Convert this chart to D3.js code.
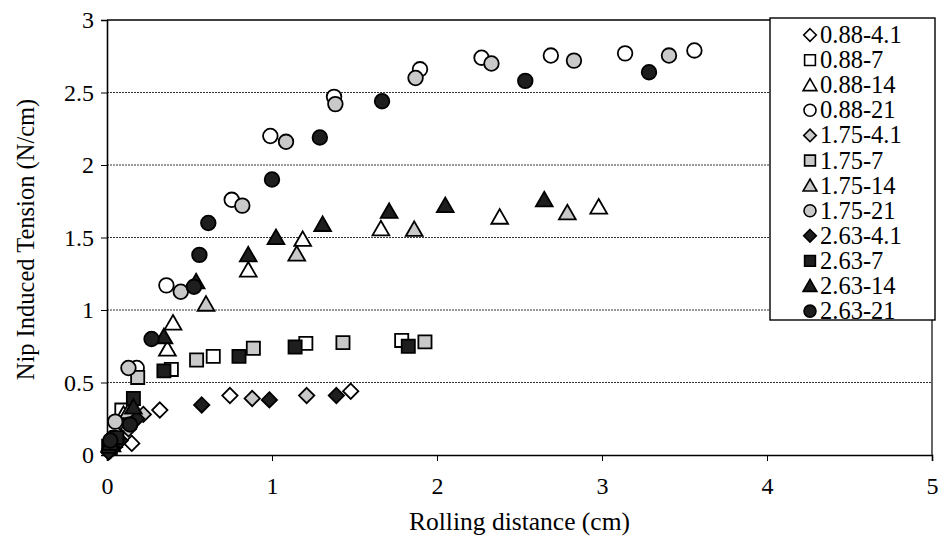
<!DOCTYPE html>
<html>
<head>
<meta charset="utf-8">
<script src="https://cdn.jsdelivr.net/npm/d3@7"></script>
<style>
  html, body { margin: 0; padding: 0; background: #fff; }
  svg { display: block; }
</style>
</head>
<body>
<svg id="chart" width="941" height="536"></svg>
<script>
// Series names (diameter - load) and their measured points [rolling distance, tension]
const seriesNames = ["0.88-4.1","0.88-7","0.88-14","0.88-21",
                     "1.75-4.1","1.75-7","1.75-14","1.75-21",
                     "2.63-4.1","2.63-7","2.63-14","2.63-21"];

const s088_41 = [[0.02,0.03],[0.15,0.08],[0.32,0.31],[0.745,0.41],[1.477,0.44]];
const s088_7  = [[0.02,0.05],[0.09,0.31],[0.39,0.59],[0.644,0.68],[1.205,0.77],[1.786,0.79]];
const s088_14 = [[0.03,0.07],[0.10,0.28],[0.366,0.73],[0.40,0.91],[0.856,1.276],[1.186,1.487],[1.66,1.56],[2.38,1.64],[2.98,1.71]];
const s088_21 = [[0.04,0.12],[0.10,0.22],[0.18,0.60],[0.36,1.17],[0.756,1.76],[0.99,2.2],[1.376,2.47],[1.897,2.66],[2.27,2.74],[2.69,2.755],[3.14,2.77],[3.56,2.79]];

const s175_41 = [[0.04,0.05],[0.13,0.18],[0.22,0.28],[0.88,0.39],[1.21,0.41]];
const s175_7  = [[0.03,0.08],[0.14,0.24],[0.186,0.535],[0.543,0.655],[0.887,0.736],[1.43,0.775],[1.927,0.78]];
const s175_14 = [[0.04,0.10],[0.13,0.30],[0.60,1.04],[1.15,1.386],[1.862,1.556],[2.79,1.67]];
const s175_21 = [[0.05,0.23],[0.13,0.60],[0.447,1.126],[0.82,1.72],[1.085,2.16],[1.384,2.42],[1.87,2.60],[2.33,2.70],[2.83,2.72],[3.406,2.755]];

const s263_41 = [[0.01,0.02],[0.08,0.10],[0.18,0.25],[0.574,0.345],[0.984,0.38],[1.39,0.41]];
const s263_7  = [[0.01,0.06],[0.06,0.12],[0.16,0.39],[0.345,0.58],[0.80,0.68],[1.14,0.745],[1.826,0.75]];
const s263_14 = [[0.02,0.08],[0.16,0.33],[0.345,0.816],[0.54,1.195],[0.856,1.38],[1.024,1.50],[1.307,1.59],[1.71,1.68],[2.05,1.72],[2.65,1.76]];
const s263_21 = [[0.02,0.10],[0.14,0.21],[0.27,0.80],[0.527,1.16],[0.56,1.38],[0.614,1.60],[1.0,1.90],[1.29,2.19],[1.667,2.44],[2.535,2.58],[3.285,2.64]];

const seriesData = [s088_41, s088_7, s088_14, s088_21,
                    s175_41, s175_7, s175_14, s175_21,
                    s263_41, s263_7, s263_14, s263_21];

const xTicks = [0, 1, 2, 3, 4, 5];
const yTicks = [0, 0.5, 1, 1.5, 2, 2.5, 3];
const xTitle = "Rolling distance (cm)";
const yTitle = "Nip Induced Tension  (N/cm)";

const FONT = "'Liberation Serif', 'DejaVu Serif', 'Times New Roman', serif";

// Marker shape per load, fill per diameter
const shapes = ["diamond", "square", "triangle", "circle"];
const fills = ["#ffffff", "#c9c9c9", "#1e1e1e"];

const svg = d3.select("#chart").attr("font-family", FONT);
const plot = { left: 107, right: 932, top: 20, bottom: 455 };

const x = d3.scaleLinear().domain([0, 5]).range([plot.left, plot.right]);
const y = d3.scaleLinear().domain([0, 3]).range([plot.bottom, plot.top]);

// Horizontal gridlines
svg.append("g").selectAll("line")
  .data(yTicks.filter(v => v > 0))
  .join("line")
  .attr("x1", plot.left).attr("x2", plot.right)
  .attr("y1", d => y(d)).attr("y2", d => y(d))
  .attr("stroke", d => d === 3 ? "#000" : "#333")
  .attr("stroke-width", d => d === 3 ? 1.6 : 1)
  .attr("stroke-dasharray", d => d === 3 ? null : "2,1");

// Right border of the plot area
svg.append("line")
  .attr("x1", plot.right).attr("x2", plot.right)
  .attr("y1", plot.top).attr("y2", plot.bottom)
  .attr("stroke", "#000").attr("stroke-width", 1.2);

// Axes
const xAxis = d3.axisBottom(x).tickValues(xTicks).tickSize(6).tickPadding(16).tickFormat(d3.format("d"));
const yAxis = d3.axisLeft(y).tickValues(yTicks).tickSize(6).tickPadding(7).tickFormat(d => d);

const gx = svg.append("g").attr("transform", `translate(0,${plot.bottom})`).call(xAxis);
const gy = svg.append("g").attr("transform", `translate(${plot.left},0)`).call(yAxis);
[gx, gy].forEach(g => {
  g.attr("font-family", FONT).attr("font-size", 24);
  g.select(".domain").attr("stroke", "#000").attr("stroke-width", 1.6);
  g.selectAll(".tick line").attr("stroke", "#000").attr("stroke-width", 1);
  g.selectAll(".tick text").attr("font-family", FONT).attr("font-size", 24).attr("fill", "#000");
});

// Axis titles
svg.append("text")
  .attr("x", (plot.left + plot.right) / 2).attr("y", 530)
  .attr("text-anchor", "middle")
  .attr("font-family", FONT).attr("font-size", 25.5)
  .text(xTitle);

svg.append("text")
  .attr("transform", `translate(34,${(plot.top + plot.bottom) / 2 + 2}) rotate(-90)`)
  .attr("text-anchor", "middle")
  .attr("font-family", FONT).attr("font-size", 24.5)
  .text(yTitle);

// Marker path builders (centred at 0,0)
function markerPath(shape, r) {
  const p = d3.path();
  if (shape === "circle") {
    p.arc(0, 0, r, 0, 2 * Math.PI);
  } else if (shape === "square") {
    const h = r * 0.9;
    p.rect(-h, -h, 2 * h, 2 * h);
  } else if (shape === "diamond") {
    const h = r * 1.05;
    p.moveTo(0, -h); p.lineTo(h, 0); p.lineTo(0, h); p.lineTo(-h, 0); p.closePath();
  } else {
    const w = r * 1.15, top = -r * 1.1, bot = r * 0.9;
    p.moveTo(0, top); p.lineTo(w, bot); p.lineTo(-w, bot); p.closePath();
  }
  return p.toString();
}

// Data points, drawn series by series
seriesData.forEach((pts, i) => {
  const shape = shapes[i % 4];
  const fill = fills[Math.floor(i / 4)];
  svg.append("g").attr("class", "series")
    .selectAll("path")
    .data(pts)
    .join("path")
    .attr("transform", d => `translate(${x(d[0])},${y(d[1])})`)
    .attr("d", markerPath(shape, 7.3))
    .attr("fill", fill)
    .attr("stroke", "#000")
    .attr("stroke-width", 1.8);
});

// Legend
const legend = svg.append("g");
legend.append("rect")
  .attr("x", 770).attr("y", 18).attr("width", 165).attr("height", 302)
  .attr("fill", "#fff").attr("stroke", "#000").attr("stroke-width", 1.4);

seriesNames.forEach((name, i) => {
  const cy = 35 + i * 25.1;
  legend.append("path")
    .attr("transform", `translate(810,${cy})`)
    .attr("d", markerPath(shapes[i % 4], 6))
    .attr("fill", fills[Math.floor(i / 4)])
    .attr("stroke", "#000").attr("stroke-width", 1.6);
  legend.append("text")
    .attr("x", 820).attr("y", cy + 8)
    .attr("font-family", FONT).attr("font-size", 24.5)
    .text(name);
});
</script>
</body>
</html>
